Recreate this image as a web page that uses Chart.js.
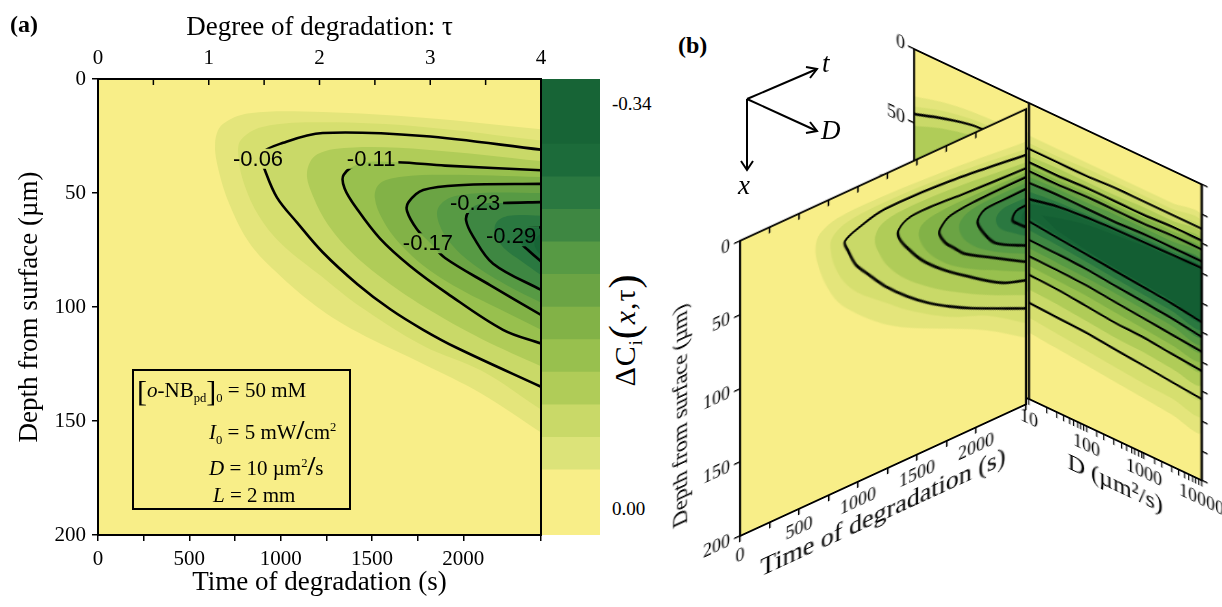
<!DOCTYPE html>
<html>
<head>
<meta charset="utf-8">
<script src="https://cdn.jsdelivr.net/npm/chart.js@4.4.1/dist/chart.umd.min.js"></script>
<style>
  html, body { margin: 0; padding: 0; background: #fff; }
  #fig { position: relative; width: 1222px; height: 607px; overflow: hidden; font-family: 'Liberation Serif', 'Times New Roman', serif; color: #000; }
  #fig canvas { position: absolute; }
  .t { position: absolute; white-space: nowrap; line-height: 1; }
  .t sub, .t sup { line-height: 0; font-size: 60%; }
</style>
</head>
<body>
<div id="fig">
  <canvas id="panelA" width="561" height="607" style="left:0;top:0"></canvas>
  <canvas id="colorBar" width="58" height="456" style="left:542px;top:79px"></canvas>
  <canvas id="backPlane" width="155" height="324" style="left:874px;top:35px;transform-origin:40px 14px;transform:skewY(25.23deg)"></canvas>
  <canvas id="sidePlane" width="210" height="381" style="left:1017px;top:89px;transform-origin:12px 14px;transform:skewY(25.23deg)"></canvas>
  <canvas id="frontPlane" width="369" height="381" style="left:660px;top:226px;transform-origin:80px 14px;transform:skewY(-24.72deg)"></canvas>

  <div class="t" style="left:10px;top:12px;font-size:24px;font-weight:bold">(a)</div>
  <div class="t" style="left:678px;top:33px;font-size:24px;font-weight:bold">(b)</div>

  <div class="t" style="left:612px;top:94px;font-size:19px">-0.34</div>
  <div class="t" style="left:612px;top:499px;font-size:19px">0.00</div>
  <div class="t" style="left:624px;top:330px;font-size:30px;letter-spacing:1px;transform:translate(-50%,-50%) rotate(-90deg)">ΔC<sub>i</sub><span style="font-size:42px;vertical-align:-3px">(</span><i>x</i>,τ<span style="font-size:42px;vertical-align:-3px">)</span></div>

  <div style="position:absolute;left:132px;top:369px;width:219px;height:141px;border:2px solid #000;box-sizing:border-box"></div>
  <div class="t" style="left:137px;top:376px;font-size:21px"><span style="font-size:30px;vertical-align:-4px">[</span><i>o</i>-NB<sub>pd</sub><span style="font-size:30px;vertical-align:-4px">]</span><sub>0</sub> = 50 mM</div>
  <div class="t" style="left:209px;top:416px;font-size:21px"><i>I</i><sub>0</sub> = 5 mW<span style="font-size:28px;font-weight:bold">/</span>cm<sup>2</sup></div>
  <div class="t" style="left:209px;top:452px;font-size:21px"><i>D</i> = 10 µm<sup>2</sup><span style="font-size:28px;font-weight:bold">/</span>s</div>
  <div class="t" style="left:213px;top:485px;font-size:21px"><i>L</i> = 2 mm</div>

  <svg style="position:absolute;left:0;top:0" width="1222" height="607">
    <g stroke="#000" stroke-width="2" fill="none">
      <line x1="747" y1="99" x2="817" y2="69"/><polyline points="806,67 817,69 810,78"/>
      <line x1="747" y1="99" x2="817" y2="131"/><polyline points="810,122 817,131 806,133"/>
      <line x1="747" y1="99" x2="747" y2="170"/><polyline points="741,161 747,170 753,161"/>
    </g>
  </svg>
  <div class="t" style="left:822px;top:50px;font-size:27px;font-style:italic">t</div>
  <div class="t" style="left:821px;top:117px;font-size:27px;font-style:italic">D</div>
  <div class="t" style="left:738px;top:172px;font-size:27px;font-style:italic">x</div>
</div>

<script>
// ---- time / depth plane, D = 10 um^2/s : boundaries of the filled levels [time s, depth um]
const tMax = 2425;
const level1 = [[2425,22],[1780,17],[1230,14.5],[830,15],[680,20],[641,28],[660,40],[720,55],[830,72],[980,85],[1200,100],[1420,111],[1780,125],[2100,138],[2425,155]];
const level2 = [[2425,27],[1780,21],[1230,19],[900,21],[780,27],[770,35],[800,46],[880,60],[1000,72],[1230,87],[1420,99],[1780,117],[2100,128],[2425,145]];
const contour06 = [[2425,31],[1780,25],[1230,23.7],[1013,28],[890,33],[914,40],[980,52],[1090,63],[1230,76],[1420,90],[1600,101],[1780,110],[1966,118],[2425,135]];
const level4 = [[2425,36],[1800,31],[1400,30],[1200,33],[1144,41],[1180,52],[1260,64],[1400,77],[1600,90],[1850,103],[2100,114],[2425,126]];
const contour11 = [[2425,40],[1900,38],[1640,36.5],[1440,37],[1345,42],[1350,48],[1418,57],[1544,70],[1708,82],[1911,94],[2217,110],[2425,116]];
const level6 = [[2425,43],[1900,42],[1650,43],[1540,46],[1515,52],[1560,62],[1650,72],[1800,83],[2000,93],[2200,101],[2425,110]];
const contour17 = [[2425,46],[2000,46.5],[1780,48.7],[1700,54],[1692,58],[1747,66],[1820,72],[1900,78.5],[2146,90.4],[2425,103.5]];
const level8 = [[2425,50],[2100,50],[1930,52],[1860,57],[1870,64],[1930,72],[2050,81],[2250,91],[2425,98]];
const contour23 = [[2425,54],[2217,54.4],[2080,55],[2030,58],[2015,62],[2053,69],[2163,81],[2425,92.5]];
const level10 = [[2425,60],[2250,60],[2180,63],[2175,68],[2220,74],[2320,80],[2425,86]];
const contour29 = [[2425,65],[2340,66],[2310,71],[2354,75],[2425,80]];
const level12 = [[2425,68],[2395,70],[2390,73],[2410,76],[2425,77]];

const timeDepthLevels = [level1, level2, contour06, level4, contour11, level6, contour17, level8, contour23, level10, contour29, level12];
const contourLines = [contour06, contour11, contour17, contour23, contour29];

const levelColors = ['#e4e57b', '#d6df6f', '#c9d968', '#b0cc58', '#98c04e', '#82b247', '#6ba444', '#579a44', '#3e8742', '#2a7840', '#1c6b3a', '#176436'];
const coreColor = '#135e33';
const paperColor = '#f8ee88';

// contour labels on the time / depth plane
const labelText = ['-0.06', '-0.11', '-0.17', '-0.23', '-0.29'];
const labelTime = [876, 1495, 1806, 2064, 2261];
const labelDepth = [35, 35, 72, 54.4, 69];

// colour scale
const colorbarEdges = [0, -0.0486, -0.0729, -0.0971, -0.1214, -0.1457, -0.17, -0.1943, -0.2186, -0.2429, -0.2671, -0.2914, -0.34];
const colorbarColors = ['#f8ee88', '#dce379', '#c9d968', '#b0cc58', '#98c04e', '#82b247', '#6ba444', '#579a44', '#3e8742', '#2a7840', '#1c6b3a', '#176436'];

// ---- D / depth plane at the end of degradation (same level order as above)
const sideD = [10, 30, 100, 300, 1000, 3000, 10000];
const sideTop = [
  [22, 22, 22, 22, 22, 22, 22],
  [27, 27, 26, 26, 26, 26, 26],
  [31, 31, 31, 30, 30, 30, 30],
  [36, 35, 35, 35, 34, 34, 34],
  [40, 40, 39, 39, 39, 38, 38],
  [43, 43, 42, 42, 41, 41, 41],
  [46, 46, 45, 45, 45, 44, 44],
  [50, 49, 49, 48, 48, 48, 48],
  [54, 53, 53, 53, 52, 52, 52],
  [60, 58, 57, 56, 55, 55, 55],
  [65, 61, 59, 58, 57.5, 57, 56.5],
  [68, 63, 61, 60, 59, 58.5, 58]
];
const sideBottom = [
  [155, 157, 159, 161, 163, 165, 167],
  [145, 147, 149, 151, 153, 154, 156],
  [135, 136, 137, 139, 141, 143, 145],
  [126, 127, 129, 131, 132, 134, 135],
  [116, 117, 119, 121, 122, 124, 126],
  [110, 111, 112, 114, 116, 118, 119],
  [103.5, 104, 105, 107, 109, 111, 113],
  [98, 99, 100, 101, 103, 105, 108],
  [92.5, 93, 94, 96, 98, 100, 103],
  [86, 87, 89, 91, 93, 95, 98],
  [80, 82, 84, 86, 88, 90, 93],
  [77, 80, 82, 84, 86, 88, 91.5]
];
const sideCore = [[17,72],[30,69],[100,64],[300,62],[1000,60],[3000,59],[10000,58.5],[10000,91],[3000,88],[1000,86],[300,84],[100,81],[30,77]];
const contourIndex = [2, 4, 6, 8, 10];

// part of the same plane behind the front face (D below 10)
const backD = [0.1, 0.3, 1, 3, 10];
const backTop = [
  [32, 27, 24, 23, 22],
  [39, 33, 29, 28, 27],
  [44, 38, 33, 32, 31],
  [52, 45, 40, 37, 36]
];
const backBottom = [
  [155, 155, 155, 155, 155],
  [145, 145, 145, 145, 145],
  [135, 135, 135, 135, 135],
  [126, 126, 126, 126, 126]
];

const serif = 'Liberation Serif';

// ---- helpers
function pts(arr) { return arr.map(p => ({x: p[0], y: p[1]})); }
function band(xs, top, bottom) {
  const out = xs.map((x, i) => ({x: x, y: top[i]}));
  for (let i = xs.length - 1; i >= 0; i--) out.push({x: xs[i], y: bottom[i]});
  return out;
}
function branches(xs, top, bottom) {
  const out = xs.map((x, i) => ({x: x, y: top[i]}));
  out.push({x: xs[xs.length - 1], y: null});
  for (let i = xs.length - 1; i >= 0; i--) out.push({x: xs[i], y: bottom[i]});
  return out;
}
function fillSet(data, color, order) {
  return { data: data, showLine: true, fill: 'shape', backgroundColor: color, borderColor: 'rgba(0,0,0,0)',
    borderWidth: 0, pointRadius: 0, tension: 0.35, order: order, xAxisID: 'x', yAxisID: 'y' };
}
function lineSet(data, order, width) {
  return { data: data, showLine: true, fill: false, borderColor: '#000', borderWidth: width, pointRadius: 0,
    tension: 0.35, order: order, contourLine: true, spanGaps: false, xAxisID: 'x', yAxisID: 'y' };
}
function fixW(w) { return s => { s.width = w; }; }
function fixH(h) { return s => { s.height = h; }; }
function dummyAxis(pos, size, extra) {
  const horiz = pos === 'top' || pos === 'bottom';
  return Object.assign({ position: pos, display: true, ticks: {display: false}, grid: {display: false}, border: {display: false},
    afterFit: horiz ? fixH(size) : fixW(size) }, extra || {});
}

// paper colour behind the plot area and a black frame round it
const paperPlugin = {
  id: 'paper',
  beforeDatasetsDraw(chart) {
    const a = chart.chartArea, ctx = chart.ctx;
    ctx.save(); ctx.fillStyle = paperColor; ctx.fillRect(a.left, a.top, a.width, a.height); ctx.restore();
  },
  afterDatasetsDraw(chart) {
    const a = chart.chartArea, ctx = chart.ctx;
    ctx.save(); ctx.strokeStyle = '#000'; ctx.lineWidth = 2; ctx.strokeRect(a.left, a.top, a.width, a.height); ctx.restore();
  }
};

// tick marks pointing into the plot for the top axis
const innerTicks = {
  id: 'innerTicks',
  afterDatasetsDraw(chart) {
    const s = chart.scales.x2;
    if (!s || !s.options.ticks.stepSize) return;
    const ctx = chart.ctx;
    ctx.save(); ctx.strokeStyle = '#000'; ctx.lineWidth = 1.5;
    s.ticks.forEach(t => {
      const x = s.getPixelForValue(t.value);
      ctx.beginPath(); ctx.moveTo(x, s.bottom); ctx.lineTo(x, s.bottom + 6); ctx.stroke();
    });
    ctx.restore();
  }
};

function labelBoxes(chart) {
  const ctx = chart.ctx;
  ctx.save(); ctx.font = '22px "Liberation Sans"';
  const out = labelText.map((s, i) => ({
    s: s, w: ctx.measureText(s).width,
    x: chart.scales.x.getPixelForValue(labelTime[i]),
    y: chart.scales.y.getPixelForValue(labelDepth[i])
  }));
  ctx.restore();
  return out;
}

// contour labels: lines are cut where a label sits
const contourLabels = {
  id: 'contourLabels',
  beforeDatasetDraw(chart, args) {
    if (!chart.data.datasets[args.index].contourLine) return;
    const ctx = chart.ctx, a = chart.chartArea;
    ctx.save();
    ctx.beginPath();
    ctx.rect(a.left, a.top, a.width, a.height);
    labelBoxes(chart).forEach(b => ctx.rect(b.x - b.w / 2 - 3, b.y - 10, b.w + 6, 20));
    ctx.clip('evenodd');
  },
  afterDatasetDraw(chart, args) {
    if (chart.data.datasets[args.index].contourLine) chart.ctx.restore();
  },
  afterDatasetsDraw(chart) {
    const ctx = chart.ctx;
    ctx.save();
    ctx.font = '22px "Liberation Sans"'; ctx.fillStyle = '#000'; ctx.textAlign = 'center'; ctx.textBaseline = 'middle';
    labelBoxes(chart).forEach(b => ctx.fillText(b.s, b.x, b.y + 1));
    ctx.restore();
  }
};

function timeDepthSets(width) {
  const sets = timeDepthLevels.map((lv, i) => fillSet(pts(lv), levelColors[i], 100 - i));
  contourLines.forEach(c => sets.push(lineSet(pts(c), 1, width)));
  return sets;
}

const baseOpts = { responsive: false, animation: false, events: [], layout: {padding: 0},
  plugins: { legend: {display: false}, tooltip: {enabled: false} } };
const blackGrid = (len) => ({ drawOnChartArea: false, tickLength: len, color: '#000', lineWidth: 1.5 });
const blackBorder = { color: '#000', width: 2 };
const fnt = (size) => ({ family: serif, size: size });

// ---- panel (a): contour map of the concentration change
new Chart(document.getElementById('panelA'), {
  type: 'scatter',
  data: { datasets: timeDepthSets(2.6) },
  plugins: [paperPlugin, innerTicks, contourLabels],
  options: Object.assign({}, baseOpts, {
    scales: {
      x: { type: 'linear', position: 'bottom', min: 0, max: tMax, afterFit: fixH(72),
        ticks: { stepSize: 250, autoSkip: false, maxRotation: 0, padding: 6, color: '#000', font: fnt(21),
          callback: v => (v % 500 === 0 ? v : '') },
        grid: blackGrid(6), border: blackBorder,
        title: { display: true, text: 'Time of degradation (s)', color: '#000', font: fnt(27), padding: {bottom: 8} } },
      x2: { type: 'linear', position: 'top', min: 0, max: 4, afterFit: fixH(79),
        ticks: { stepSize: 0.5, autoSkip: false, maxRotation: 0, padding: 8, color: '#000', font: fnt(21),
          callback: v => (Number.isInteger(v) ? v : '') },
        grid: { drawOnChartArea: false, drawTicks: false }, border: blackBorder,
        title: { display: true, text: 'Degree of degradation: τ', color: '#000', font: fnt(27), padding: {top: 12} } },
      y: { type: 'linear', position: 'left', min: 0, max: 200, reverse: true, afterFit: fixW(98),
        ticks: { stepSize: 50, padding: 6, color: '#000', font: fnt(21) },
        grid: blackGrid(6), border: blackBorder,
        title: { display: true, text: 'Depth from surface (µm)', color: '#000', font: fnt(27), padding: {top: 14} } },
      yr: dummyAxis('right', 20, { type: 'linear', min: 0, max: 200 })
    }
  })
});

// ---- colour scale
new Chart(document.getElementById('colorBar'), {
  type: 'bar',
  data: { labels: [''], datasets: colorbarColors.map((c, i) => ({
    data: [[colorbarEdges[i], colorbarEdges[i + 1]]], backgroundColor: c, borderWidth: 0,
    grouped: false, barPercentage: 1, categoryPercentage: 1 })) },
  options: Object.assign({}, baseOpts, {
    scales: { x: { display: false }, y: { display: false, min: -0.34, max: 0, reverse: true } }
  })
});

// ---- panel (b): back part of the D plane (mostly hidden)
new Chart(document.getElementById('backPlane'), {
  type: 'scatter',
  data: { datasets: backTop.map((top, i) => fillSet(band(backD, top, backBottom[i]), levelColors[i], 100 - i))
    .concat([lineSet(backD.map((d, i) => ({x: d, y: backTop[2][i]})), 1, 2.4)]) },
  plugins: [paperPlugin],
  options: Object.assign({}, baseOpts, {
    scales: {
      x: dummyAxis('bottom', 14, { type: 'logarithmic', min: 0.1, max: 10 }),
      x2: dummyAxis('top', 14, { type: 'linear' }),
      y: { type: 'linear', position: 'left', min: 0, max: 200, reverse: true, afterFit: fixW(40),
        ticks: { stepSize: 50, padding: 3, color: '#000', font: fnt(18) },
        grid: blackGrid(6), border: blackBorder }
    }
  })
});

// ---- panel (b): D / depth plane at the end of degradation
const sideSets = sideTop.map((top, i) => fillSet(band(sideD, top, sideBottom[i]), levelColors[i], 100 - i));
sideSets.push(fillSet(pts(sideCore), coreColor, 50));
contourIndex.forEach(k => sideSets.push(lineSet(branches(sideD, sideTop[k], sideBottom[k]), 1, 2.4)));

new Chart(document.getElementById('sidePlane'), {
  type: 'scatter',
  data: { datasets: sideSets },
  plugins: [paperPlugin],
  options: Object.assign({}, baseOpts, {
    scales: {
      x: { type: 'logarithmic', position: 'bottom', min: 10, max: 10000, afterFit: fixH(71),
        ticks: { autoSkip: false, maxRotation: 0, padding: 3, color: '#000', font: fnt(18),
          callback: v => ([10, 100, 1000, 10000].includes(v) ? String(v) : '') },
        grid: { drawOnChartArea: false, tickLength: 6, color: '#000', lineWidth: 1.2 }, border: blackBorder,
        title: { display: true, text: 'D (µm²/s)', color: '#000', font: fnt(24), padding: {bottom: 12} } },
      x2: dummyAxis('top', 14, { type: 'linear' }),
      y: dummyAxis('left', 12, { type: 'linear', min: 0, max: 200, reverse: true }),
      yr: { type: 'linear', position: 'right', min: 0, max: 200, reverse: true, afterFit: fixW(24),
        ticks: { stepSize: 20, padding: 0, callback: () => '' },
        grid: blackGrid(6), border: blackBorder }
    }
  })
});

// ---- panel (b): front face, time / depth at D = 10 um^2/s
new Chart(document.getElementById('frontPlane'), {
  type: 'scatter',
  data: { datasets: timeDepthSets(2.4) },
  plugins: [paperPlugin, innerTicks],
  options: Object.assign({}, baseOpts, {
    scales: {
      x: { type: 'linear', position: 'bottom', min: 0, max: tMax, afterFit: fixH(71),
        ticks: { stepSize: 250, autoSkip: false, maxRotation: 0, padding: 3, color: '#000', font: fnt(18),
          callback: v => (v % 500 === 0 ? v : '') },
        grid: blackGrid(6), border: blackBorder,
        title: { display: true, text: 'Time of degradation (s)', color: '#000', font: fnt(26), padding: {bottom: 12} } },
      x2: { type: 'linear', position: 'top', min: 0, max: tMax, afterFit: fixH(14),
        ticks: { stepSize: 250, display: false }, grid: { display: false }, border: { display: false } },
      y: { type: 'linear', position: 'left', min: 0, max: 200, reverse: true, afterFit: fixW(80),
        ticks: { stepSize: 50, padding: 4, color: '#000', font: fnt(18) },
        grid: blackGrid(6), border: blackBorder,
        title: { display: true, text: 'Depth from surface (µm)', color: '#000', font: fnt(22), padding: {top: 8} } }
    }
  })
});
</script>
</body>
</html>
